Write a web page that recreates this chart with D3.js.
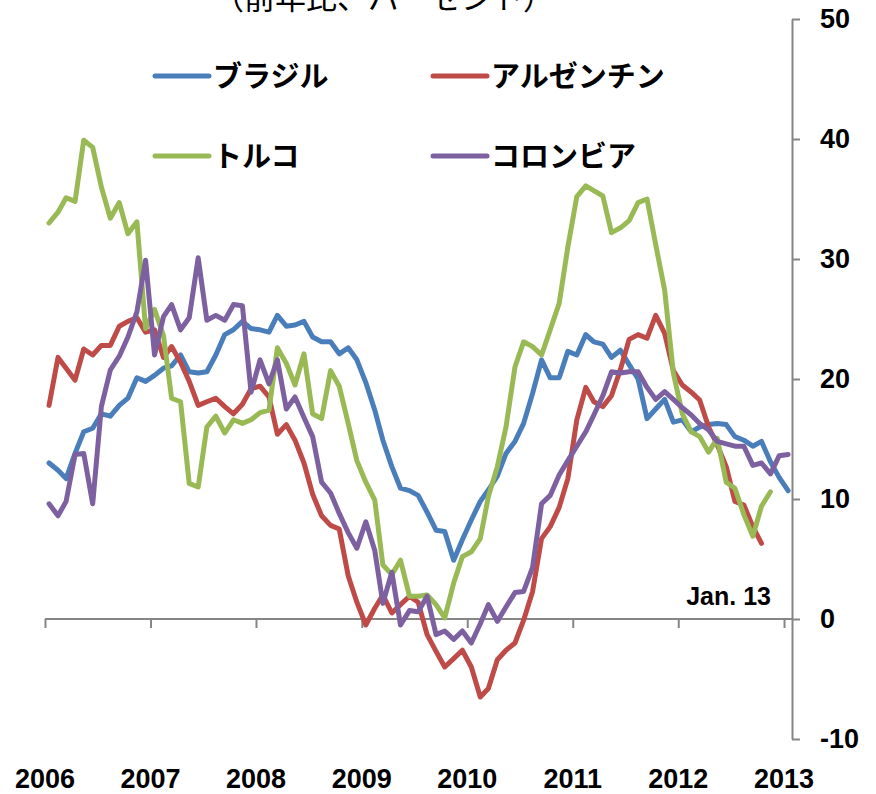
<!DOCTYPE html>
<html>
<head>
<meta charset="utf-8">
<script src="https://cdn.jsdelivr.net/npm/d3@7"></script>
<style>
  body { margin: 0; background: #fff; }
  svg { display: block; }
</style>
</head>
<body>
<script>
// monthly, Jan 2006 .. Jan 2013
const startYear = 2006;
const yearLabels = ['2006', '2007', '2008', '2009', '2010', '2011', '2012', '2013'];
const yTicks = [-10, 0, 10, 20, 30, 40, 50];

const brazil = [
  13.0, 12.4, 11.7, 13.8, 15.6, 15.9, 17.1, 16.9, 17.8, 18.4, 20.1, 19.8,
  20.3, 20.9, 21.1, 22.0, 20.6, 20.5, 20.6, 22.0, 23.7, 24.1, 24.8, 24.2,
  24.1, 23.9, 25.3, 24.4, 24.5, 24.8, 23.5, 23.1, 23.1, 22.1, 22.6, 21.6,
  19.7, 17.4, 14.9, 12.7, 10.9, 10.7, 10.3, 8.9, 7.4, 7.3, 4.9, 6.6,
  8.25, 9.8, 10.75, 11.9, 13.8, 14.8, 16.3, 18.8, 21.6, 20.1, 20.1, 22.3,
  22.0, 23.7, 23.1, 22.9, 21.8, 22.4, 21.2, 20.0, 16.7, 17.5, 18.3, 16.4,
  16.6, 15.6, 16.0, 16.2, 16.3, 16.2, 15.2, 14.9, 14.4, 14.8, 13.1, 11.8,
  10.7
];
const argentina = [
  17.8, 21.8, 20.9, 19.9, 22.5, 22.0, 22.8, 22.8, 24.4, 24.8, 25.1, 23.9,
  24.1, 21.8, 22.7, 21.4, 19.8, 17.8, 18.1, 18.4, 17.7, 17.1, 17.9, 19.2,
  19.4, 18.5, 15.4, 16.2, 14.9, 13.0, 10.4, 8.6, 7.8, 7.5, 3.6, 1.4,
  -0.5, 0.9, 2.0, 0.5, 1.2, 1.9, 1.4, -1.3, -2.7, -4.0, -3.3, -2.6,
  -4.0, -6.5, -5.8, -3.4, -2.6, -2.0, -0.1, 2.3, 6.7, 7.7, 9.3, 11.7,
  16.6, 19.3, 18.1, 17.7, 18.6, 20.8, 23.3, 23.7, 23.4, 25.3, 23.8, 20.7,
  19.5, 18.9, 18.25, 16.0, 14.5, 12.7, 9.8, 9.5, 7.7, 6.3
];
const turkey = [
  33.0, 33.9, 35.1, 34.8, 39.9, 39.3, 36.0, 33.4, 34.7, 32.1, 33.1, 24.2,
  25.8, 23.6, 18.4, 18.1, 11.3, 11.0, 16.0, 16.9, 15.5, 16.6, 16.3, 16.6,
  17.2, 17.4, 22.6, 21.3, 19.5, 22.1, 17.1, 16.7, 20.7, 19.4, 16.3, 13.2,
  11.4, 9.9, 4.5, 3.7, 4.9, 1.9, 1.9, 2.0, 1.2, 0.1, 3.0, 5.2,
  5.6, 6.7, 10.2, 12.7, 16.0, 21.0, 23.1, 22.7, 22.0, 24.1, 26.3, 31.0,
  35.2, 36.1, 35.7, 35.25, 32.2, 32.6, 33.2, 34.7, 35.0, 31.2, 27.4, 20.5,
  17.1, 15.6, 15.2, 13.9, 15.05, 11.4, 10.9, 8.7, 6.9, 9.4, 10.6
];
const colombia = [
  9.6, 8.6, 9.8, 13.7, 13.8, 9.6, 17.7, 20.75, 21.9, 23.5, 25.6, 29.9,
  22.0, 25.2, 26.2, 24.1, 25.1, 30.1, 24.9, 25.3, 24.9, 26.2, 26.1, 18.9,
  21.6, 19.6, 21.6, 17.5, 18.5, 16.8, 15.2, 11.4, 10.5, 8.8, 7.2, 5.9,
  8.1, 5.7, 1.3, 3.9, -0.5, 0.7, 0.6, 1.9, -1.3, -1.0, -1.7, -1.0,
  -2.0, -0.4, 1.2, -0.2, 1.0, 2.2, 2.3, 4.3, 9.6, 10.3, 12.0, 13.2,
  14.4, 15.6, 17.0, 18.6, 20.6, 20.5, 20.6, 20.6, 19.3, 18.3, 18.95, 18.3,
  17.6, 17.0, 16.3, 15.75, 14.8, 14.6, 14.4, 14.4, 12.8, 13.0, 12.1, 13.6,
  13.7
];

const seriesNames = ['ブラジル', 'アルゼンチン', 'トルコ', 'コロンビア'];
const seriesValues = [brazil, argentina, turkey, colombia];
const seriesColors = ['#4a7ebb', '#be4b48', '#98b954', '#7d60a0'];

const width = 876, height = 794;
const svg = d3.select('body').append('svg')
  .attr('width', width)
  .attr('height', height);

// scales
const x = d3.scaleTime()
  .domain([new Date(startYear, 0, 1), new Date(startYear + 7, 1, 1)])
  .range([45, 793]);
const y = d3.scaleLinear().domain([-10, 50]).range([739, 19]);
const axisColor = '#868686';
const numFont = '"Liberation Sans", Arial, sans-serif';
const jpFont = '"Noto Sans CJK JP", sans-serif';

// title (cut off at top, as in the source)
svg.append('text')
  .attr('x', 213)
  .attr('y', 9)
  .attr('font-family', jpFont)
  .attr('font-size', 31)
  .attr('fill', '#000')
  .text('（前年比、パーセント）');

// y axis on the right
const yAxis = svg.append('g')
  .attr('transform', 'translate(792,0)')
  .call(d3.axisRight(y).tickValues(yTicks).tickSize(8).tickPadding(20)
    .tickSizeOuter(0).tickFormat((d) => String(d)));
yAxis.select('.domain').attr('stroke', axisColor).attr('stroke-width', 2);
yAxis.selectAll('.tick line').attr('stroke', axisColor).attr('stroke-width', 2);
yAxis.selectAll('.tick text')
  .attr('font-family', numFont)
  .attr('font-weight', 'bold')
  .attr('font-size', 27)
  .attr('fill', '#000');

// x axis at zero
const yearDates = yearLabels.map((d) => new Date(+d, 0, 1));
const xAxis = svg.append('g')
  .attr('transform', `translate(0,${y(0)})`)
  .call(d3.axisBottom(x).tickValues(yearDates).tickSize(9).tickFormat('').tickSizeOuter(0));
xAxis.select('.domain')
  .attr('d', `M45,0H792`)
  .attr('stroke', axisColor).attr('stroke-width', 2);
xAxis.selectAll('.tick line').attr('stroke', axisColor).attr('stroke-width', 2);

// year labels at the bottom
svg.append('g')
  .selectAll('text')
  .data(yearLabels)
  .join('text')
  .attr('x', (d) => x(new Date(+d, 0, 1)))
  .attr('y', 788)
  .attr('text-anchor', 'middle')
  .attr('font-family', numFont)
  .attr('font-weight', 'bold')
  .attr('font-size', 27)
  .text((d) => d);

// lines
const line = d3.line()
  .x((d, i) => x(new Date(startYear, i, 15)))
  .y((d) => y(d));

svg.append('g')
  .selectAll('path')
  .data(seriesValues)
  .join('path')
  .attr('d', (d) => line(d))
  .attr('fill', 'none')
  .attr('stroke', (d, i) => seriesColors[i])
  .attr('stroke-width', 5)
  .attr('stroke-linejoin', 'round')
  .attr('stroke-linecap', 'round');

// legend
const legendPos = [[155, 76], [433, 76], [155, 156], [433, 156]];
const legend = svg.append('g')
  .selectAll('g')
  .data(seriesNames)
  .join('g')
  .attr('transform', (d, i) => `translate(${legendPos[i][0]},${legendPos[i][1]})`);
legend.append('line')
  .attr('x1', 0).attr('x2', 54)
  .attr('stroke', (d, i) => seriesColors[i])
  .attr('stroke-width', 5)
  .attr('stroke-linecap', 'round');
legend.append('text')
  .attr('x', 58)
  .attr('y', 11)
  .attr('font-family', jpFont)
  .attr('font-weight', 'bold')
  .attr('font-size', 29)
  .text((d) => d);

// last-observation note
svg.append('text')
  .attr('x', 771)
  .attr('y', 605)
  .attr('text-anchor', 'end')
  .attr('font-family', numFont)
  .attr('font-weight', 'bold')
  .attr('font-size', 25)
  .text('Jan. 13');
</script>
</body>
</html>
